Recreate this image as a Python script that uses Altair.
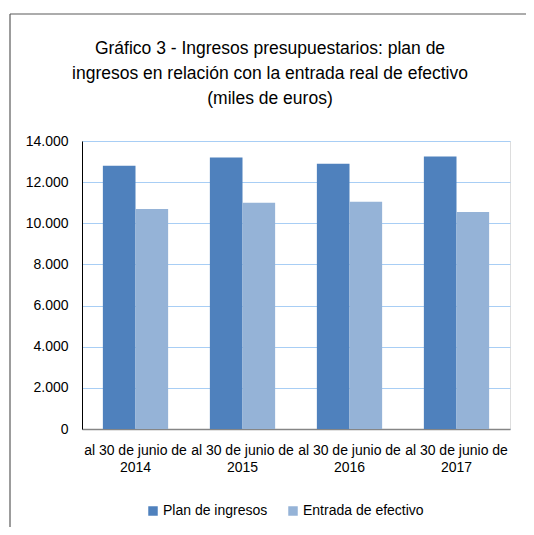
import altair as alt
import pandas as pd

categories = ["al 30 de junio de 2014", "al 30 de junio de 2015",
              "al 30 de junio de 2016", "al 30 de junio de 2017"]
series = ["Plan de ingresos", "Entrada de efectivo"]
plan_ingresos = [12800, 13200, 12900, 13250]
entrada_efectivo = [10700, 11000, 11050, 10550]
y_ticks = [0, 2000, 4000, 6000, 8000, 10000, 12000, 14000]
colors = ["#4F81BD", "#95B3D7"]
title_lines = ["Gráfico 3 - Ingresos presupuestarios: plan de",
               "ingresos en relación con la entrada real de efectivo",
               "(miles de euros)"]

rows = []
for c, p, e in zip(categories, plan_ingresos, entrada_efectivo):
    rows.append({"cat": c, "serie": series[0], "valor": p})
    rows.append({"cat": c, "serie": series[1], "valor": e})
df = pd.DataFrame(rows)

FONT = "Liberation Sans, Arial, sans-serif"

bars = alt.Chart(df).mark_bar().encode(
    x=alt.X("cat:N", sort=categories,
            scale=alt.Scale(paddingInner=0.39, paddingOuter=0.195),
            axis=alt.Axis(title=None, labelAngle=0, ticks=False,
                          domainColor="#868686", domainWidth=1.5,
                          labelExpr="[substring(datum.value, 0, 17), substring(datum.value, 18)]",
                          labelFontSize=14, labelColor="#000000", labelFont=FONT,
                          labelPadding=14, labelLineHeight=17, grid=False)),
    xOffset=alt.XOffset("serie:N", sort=series,
                        scale=alt.Scale(paddingInner=0, paddingOuter=0)),
    y=alt.Y("valor:Q", scale=alt.Scale(domain=[0, 14000], nice=False),
            axis=alt.Axis(title=None, values=y_ticks, ticks=False,
                          domainColor="#000000", domainWidth=1,
                          gridColor="#A8CEF5", gridWidth=1.2,
                          labelExpr="replace(format(datum.value, ','), ',', '.')",
                          labelFontSize=14, labelColor="#000000", labelFont=FONT,
                          labelPadding=14)),
    color=alt.Color("serie:N", sort=series,
                    scale=alt.Scale(domain=series, range=colors),
                    legend=alt.Legend(title=None, orient="none", direction="horizontal",
                                      legendX=64, legendY=363,
                                      symbolType="square", symbolSize=90,
                                      symbolStrokeWidth=0, labelFontSize=14,
                                      labelFont=FONT, labelColor="#000000",
                                      labelOffset=3, columnPadding=18)),
)

frame_left = alt.Chart(pd.DataFrame({"k": [0]})).mark_rule(
    color="#5a5a5a", strokeWidth=1.2, clip=False).encode(
    x=alt.value(-72), y=alt.value(-127), y2=alt.value(400))
frame_top = alt.Chart(pd.DataFrame({"k": [0]})).mark_rule(
    color="#5a5a5a", strokeWidth=1.2, clip=False).encode(
    x=alt.value(-72), x2=alt.value(460), y=alt.value(-127))

chart = alt.layer(bars, frame_left, frame_top).properties(
    width=428, height=288,
    title=alt.TitleParams(title_lines, fontSize=17.5, font=FONT, fontWeight="normal",
                          color="#000000", anchor="middle", frame="group",
                          lineHeight=25, offset=-94, dx=-26),
    autosize=alt.AutoSizeParams(type="none"),
    padding={"left": 74, "top": 133, "right": 16, "bottom": 98},
).configure_view(stroke=None).configure(background="white")

chart.save("out.html", embed_options={"renderer": "svg", "actions": False})
